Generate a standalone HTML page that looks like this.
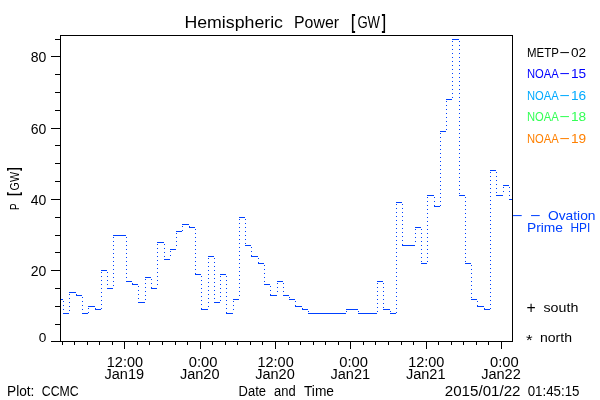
<!DOCTYPE html><html><head><meta charset="utf-8"><title>Hemispheric Power [GW]</title>
<style>html,body{margin:0;padding:0;background:#fff}svg{display:block}text{font-family:"Liberation Sans",sans-serif}</style></head><body>
<svg width="600" height="400" viewBox="0 0 600 400">
<rect width="600" height="400" fill="#fff"/>
<g fill="#000" shape-rendering="crispEdges">
<rect x="60" y="35" width="453" height="1"/>
<rect x="60" y="341" width="453" height="1"/>
<rect x="60" y="35" width="1" height="307"/>
<rect x="512" y="35" width="1" height="307"/>
<rect x="51" y="341" width="9" height="1"/>
<rect x="55" y="324" width="5" height="1"/>
<rect x="55" y="306" width="5" height="1"/>
<rect x="55" y="288" width="5" height="1"/>
<rect x="51" y="270" width="9" height="1"/>
<rect x="55" y="252" width="5" height="1"/>
<rect x="55" y="235" width="5" height="1"/>
<rect x="55" y="217" width="5" height="1"/>
<rect x="51" y="199" width="9" height="1"/>
<rect x="55" y="181" width="5" height="1"/>
<rect x="55" y="163" width="5" height="1"/>
<rect x="55" y="145" width="5" height="1"/>
<rect x="51" y="128" width="9" height="1"/>
<rect x="55" y="110" width="5" height="1"/>
<rect x="55" y="92" width="5" height="1"/>
<rect x="55" y="74" width="5" height="1"/>
<rect x="51" y="56" width="9" height="1"/>
<rect x="55" y="39" width="5" height="1"/>
<rect x="62" y="342" width="1" height="3"/>
<rect x="74" y="342" width="1" height="3"/>
<rect x="87" y="342" width="1" height="3"/>
<rect x="99" y="342" width="1" height="3"/>
<rect x="112" y="342" width="1" height="3"/>
<rect x="124" y="342" width="1" height="7"/>
<rect x="137" y="342" width="1" height="3"/>
<rect x="149" y="342" width="1" height="3"/>
<rect x="162" y="342" width="1" height="3"/>
<rect x="175" y="342" width="1" height="3"/>
<rect x="187" y="342" width="1" height="3"/>
<rect x="200" y="342" width="1" height="7"/>
<rect x="212" y="342" width="1" height="3"/>
<rect x="225" y="342" width="1" height="3"/>
<rect x="237" y="342" width="1" height="3"/>
<rect x="250" y="342" width="1" height="3"/>
<rect x="262" y="342" width="1" height="3"/>
<rect x="275" y="342" width="1" height="7"/>
<rect x="288" y="342" width="1" height="3"/>
<rect x="300" y="342" width="1" height="3"/>
<rect x="313" y="342" width="1" height="3"/>
<rect x="325" y="342" width="1" height="3"/>
<rect x="338" y="342" width="1" height="3"/>
<rect x="350" y="342" width="1" height="7"/>
<rect x="363" y="342" width="1" height="3"/>
<rect x="375" y="342" width="1" height="3"/>
<rect x="388" y="342" width="1" height="3"/>
<rect x="401" y="342" width="1" height="3"/>
<rect x="413" y="342" width="1" height="3"/>
<rect x="426" y="342" width="1" height="7"/>
<rect x="438" y="342" width="1" height="3"/>
<rect x="451" y="342" width="1" height="3"/>
<rect x="463" y="342" width="1" height="3"/>
<rect x="476" y="342" width="1" height="3"/>
<rect x="488" y="342" width="1" height="3"/>
<rect x="501" y="342" width="1" height="7"/>
</g>
<g fill="#0040ff" shape-rendering="crispEdges">
<rect x="61" y="299" width="2" height="1"/>
<rect x="63" y="313" width="6" height="1"/>
<rect x="69" y="292" width="7" height="1"/>
<rect x="76" y="295" width="6" height="1"/>
<rect x="82" y="313" width="6" height="1"/>
<rect x="88" y="306" width="7" height="1"/>
<rect x="95" y="309" width="6" height="1"/>
<rect x="101" y="270" width="6" height="1"/>
<rect x="107" y="288" width="6" height="1"/>
<rect x="113" y="235" width="7" height="1"/>
<rect x="120" y="235" width="6" height="1"/>
<rect x="126" y="281" width="6" height="1"/>
<rect x="132" y="284" width="6" height="1"/>
<rect x="138" y="302" width="7" height="1"/>
<rect x="145" y="277" width="6" height="1"/>
<rect x="151" y="288" width="6" height="1"/>
<rect x="157" y="242" width="7" height="1"/>
<rect x="164" y="259" width="6" height="1"/>
<rect x="170" y="249" width="6" height="1"/>
<rect x="176" y="231" width="6" height="1"/>
<rect x="182" y="224" width="7" height="1"/>
<rect x="189" y="227" width="6" height="1"/>
<rect x="195" y="274" width="6" height="1"/>
<rect x="201" y="309" width="7" height="1"/>
<rect x="208" y="256" width="6" height="1"/>
<rect x="214" y="302" width="6" height="1"/>
<rect x="220" y="274" width="6" height="1"/>
<rect x="226" y="313" width="7" height="1"/>
<rect x="233" y="299" width="6" height="1"/>
<rect x="239" y="217" width="6" height="1"/>
<rect x="245" y="245" width="6" height="1"/>
<rect x="251" y="256" width="7" height="1"/>
<rect x="258" y="263" width="6" height="1"/>
<rect x="264" y="284" width="6" height="1"/>
<rect x="270" y="295" width="7" height="1"/>
<rect x="277" y="281" width="6" height="1"/>
<rect x="283" y="295" width="6" height="1"/>
<rect x="289" y="299" width="6" height="1"/>
<rect x="295" y="306" width="7" height="1"/>
<rect x="302" y="309" width="6" height="1"/>
<rect x="308" y="313" width="6" height="1"/>
<rect x="314" y="313" width="7" height="1"/>
<rect x="321" y="313" width="6" height="1"/>
<rect x="327" y="313" width="6" height="1"/>
<rect x="333" y="313" width="6" height="1"/>
<rect x="339" y="313" width="7" height="1"/>
<rect x="346" y="309" width="6" height="1"/>
<rect x="352" y="309" width="6" height="1"/>
<rect x="358" y="313" width="6" height="1"/>
<rect x="364" y="313" width="7" height="1"/>
<rect x="371" y="313" width="6" height="1"/>
<rect x="377" y="281" width="6" height="1"/>
<rect x="383" y="309" width="7" height="1"/>
<rect x="390" y="313" width="6" height="1"/>
<rect x="396" y="202" width="6" height="1"/>
<rect x="402" y="245" width="6" height="1"/>
<rect x="408" y="245" width="7" height="1"/>
<rect x="415" y="227" width="6" height="1"/>
<rect x="421" y="263" width="6" height="1"/>
<rect x="427" y="195" width="7" height="1"/>
<rect x="434" y="206" width="6" height="1"/>
<rect x="440" y="131" width="6" height="1"/>
<rect x="446" y="99" width="6" height="1"/>
<rect x="452" y="39" width="7" height="1"/>
<rect x="459" y="195" width="6" height="1"/>
<rect x="465" y="263" width="6" height="1"/>
<rect x="471" y="299" width="6" height="1"/>
<rect x="477" y="306" width="7" height="1"/>
<rect x="484" y="309" width="6" height="1"/>
<rect x="490" y="170" width="6" height="1"/>
<rect x="496" y="195" width="7" height="1"/>
<rect x="503" y="185" width="6" height="1"/>
<rect x="509" y="199" width="3" height="1"/>
<rect x="63" y="301" width="1" height="1"/>
<rect x="63" y="305" width="1" height="1"/>
<rect x="63" y="309" width="1" height="1"/>
<rect x="69" y="294" width="1" height="1"/>
<rect x="69" y="298" width="1" height="1"/>
<rect x="69" y="302" width="1" height="1"/>
<rect x="69" y="306" width="1" height="1"/>
<rect x="69" y="310" width="1" height="1"/>
<rect x="76" y="294" width="1" height="1"/>
<rect x="82" y="297" width="1" height="1"/>
<rect x="82" y="301" width="1" height="1"/>
<rect x="82" y="305" width="1" height="1"/>
<rect x="82" y="309" width="1" height="1"/>
<rect x="88" y="308" width="1" height="1"/>
<rect x="88" y="312" width="1" height="1"/>
<rect x="95" y="308" width="1" height="1"/>
<rect x="101" y="272" width="1" height="1"/>
<rect x="101" y="276" width="1" height="1"/>
<rect x="101" y="280" width="1" height="1"/>
<rect x="101" y="284" width="1" height="1"/>
<rect x="101" y="288" width="1" height="1"/>
<rect x="101" y="292" width="1" height="1"/>
<rect x="101" y="296" width="1" height="1"/>
<rect x="101" y="300" width="1" height="1"/>
<rect x="101" y="304" width="1" height="1"/>
<rect x="101" y="308" width="1" height="1"/>
<rect x="107" y="272" width="1" height="1"/>
<rect x="107" y="276" width="1" height="1"/>
<rect x="107" y="280" width="1" height="1"/>
<rect x="107" y="284" width="1" height="1"/>
<rect x="113" y="237" width="1" height="1"/>
<rect x="113" y="241" width="1" height="1"/>
<rect x="113" y="245" width="1" height="1"/>
<rect x="113" y="249" width="1" height="1"/>
<rect x="113" y="253" width="1" height="1"/>
<rect x="113" y="257" width="1" height="1"/>
<rect x="113" y="261" width="1" height="1"/>
<rect x="113" y="265" width="1" height="1"/>
<rect x="113" y="269" width="1" height="1"/>
<rect x="113" y="273" width="1" height="1"/>
<rect x="113" y="277" width="1" height="1"/>
<rect x="113" y="281" width="1" height="1"/>
<rect x="113" y="285" width="1" height="1"/>
<rect x="126" y="237" width="1" height="1"/>
<rect x="126" y="241" width="1" height="1"/>
<rect x="126" y="245" width="1" height="1"/>
<rect x="126" y="249" width="1" height="1"/>
<rect x="126" y="253" width="1" height="1"/>
<rect x="126" y="257" width="1" height="1"/>
<rect x="126" y="261" width="1" height="1"/>
<rect x="126" y="265" width="1" height="1"/>
<rect x="126" y="269" width="1" height="1"/>
<rect x="126" y="273" width="1" height="1"/>
<rect x="126" y="277" width="1" height="1"/>
<rect x="132" y="283" width="1" height="1"/>
<rect x="138" y="286" width="1" height="1"/>
<rect x="138" y="290" width="1" height="1"/>
<rect x="138" y="294" width="1" height="1"/>
<rect x="138" y="298" width="1" height="1"/>
<rect x="145" y="279" width="1" height="1"/>
<rect x="145" y="283" width="1" height="1"/>
<rect x="145" y="287" width="1" height="1"/>
<rect x="145" y="291" width="1" height="1"/>
<rect x="145" y="295" width="1" height="1"/>
<rect x="145" y="299" width="1" height="1"/>
<rect x="151" y="279" width="1" height="1"/>
<rect x="151" y="283" width="1" height="1"/>
<rect x="151" y="287" width="1" height="1"/>
<rect x="157" y="244" width="1" height="1"/>
<rect x="157" y="248" width="1" height="1"/>
<rect x="157" y="252" width="1" height="1"/>
<rect x="157" y="256" width="1" height="1"/>
<rect x="157" y="260" width="1" height="1"/>
<rect x="157" y="264" width="1" height="1"/>
<rect x="157" y="268" width="1" height="1"/>
<rect x="157" y="272" width="1" height="1"/>
<rect x="157" y="276" width="1" height="1"/>
<rect x="157" y="280" width="1" height="1"/>
<rect x="157" y="284" width="1" height="1"/>
<rect x="164" y="244" width="1" height="1"/>
<rect x="164" y="248" width="1" height="1"/>
<rect x="164" y="252" width="1" height="1"/>
<rect x="164" y="256" width="1" height="1"/>
<rect x="170" y="251" width="1" height="1"/>
<rect x="170" y="255" width="1" height="1"/>
<rect x="176" y="233" width="1" height="1"/>
<rect x="176" y="237" width="1" height="1"/>
<rect x="176" y="241" width="1" height="1"/>
<rect x="176" y="245" width="1" height="1"/>
<rect x="182" y="226" width="1" height="1"/>
<rect x="182" y="230" width="1" height="1"/>
<rect x="189" y="226" width="1" height="1"/>
<rect x="195" y="229" width="1" height="1"/>
<rect x="195" y="233" width="1" height="1"/>
<rect x="195" y="237" width="1" height="1"/>
<rect x="195" y="241" width="1" height="1"/>
<rect x="195" y="245" width="1" height="1"/>
<rect x="195" y="249" width="1" height="1"/>
<rect x="195" y="253" width="1" height="1"/>
<rect x="195" y="257" width="1" height="1"/>
<rect x="195" y="261" width="1" height="1"/>
<rect x="195" y="265" width="1" height="1"/>
<rect x="195" y="269" width="1" height="1"/>
<rect x="195" y="273" width="1" height="1"/>
<rect x="201" y="276" width="1" height="1"/>
<rect x="201" y="280" width="1" height="1"/>
<rect x="201" y="284" width="1" height="1"/>
<rect x="201" y="288" width="1" height="1"/>
<rect x="201" y="292" width="1" height="1"/>
<rect x="201" y="296" width="1" height="1"/>
<rect x="201" y="300" width="1" height="1"/>
<rect x="201" y="304" width="1" height="1"/>
<rect x="201" y="308" width="1" height="1"/>
<rect x="208" y="258" width="1" height="1"/>
<rect x="208" y="262" width="1" height="1"/>
<rect x="208" y="266" width="1" height="1"/>
<rect x="208" y="270" width="1" height="1"/>
<rect x="208" y="274" width="1" height="1"/>
<rect x="208" y="278" width="1" height="1"/>
<rect x="208" y="282" width="1" height="1"/>
<rect x="208" y="286" width="1" height="1"/>
<rect x="208" y="290" width="1" height="1"/>
<rect x="208" y="294" width="1" height="1"/>
<rect x="208" y="298" width="1" height="1"/>
<rect x="208" y="302" width="1" height="1"/>
<rect x="208" y="306" width="1" height="1"/>
<rect x="214" y="258" width="1" height="1"/>
<rect x="214" y="262" width="1" height="1"/>
<rect x="214" y="266" width="1" height="1"/>
<rect x="214" y="270" width="1" height="1"/>
<rect x="214" y="274" width="1" height="1"/>
<rect x="214" y="278" width="1" height="1"/>
<rect x="214" y="282" width="1" height="1"/>
<rect x="214" y="286" width="1" height="1"/>
<rect x="214" y="290" width="1" height="1"/>
<rect x="214" y="294" width="1" height="1"/>
<rect x="214" y="298" width="1" height="1"/>
<rect x="220" y="276" width="1" height="1"/>
<rect x="220" y="280" width="1" height="1"/>
<rect x="220" y="284" width="1" height="1"/>
<rect x="220" y="288" width="1" height="1"/>
<rect x="220" y="292" width="1" height="1"/>
<rect x="220" y="296" width="1" height="1"/>
<rect x="220" y="300" width="1" height="1"/>
<rect x="226" y="276" width="1" height="1"/>
<rect x="226" y="280" width="1" height="1"/>
<rect x="226" y="284" width="1" height="1"/>
<rect x="226" y="288" width="1" height="1"/>
<rect x="226" y="292" width="1" height="1"/>
<rect x="226" y="296" width="1" height="1"/>
<rect x="226" y="300" width="1" height="1"/>
<rect x="226" y="304" width="1" height="1"/>
<rect x="226" y="308" width="1" height="1"/>
<rect x="226" y="312" width="1" height="1"/>
<rect x="233" y="301" width="1" height="1"/>
<rect x="233" y="305" width="1" height="1"/>
<rect x="233" y="309" width="1" height="1"/>
<rect x="239" y="219" width="1" height="1"/>
<rect x="239" y="223" width="1" height="1"/>
<rect x="239" y="227" width="1" height="1"/>
<rect x="239" y="231" width="1" height="1"/>
<rect x="239" y="235" width="1" height="1"/>
<rect x="239" y="239" width="1" height="1"/>
<rect x="239" y="243" width="1" height="1"/>
<rect x="239" y="247" width="1" height="1"/>
<rect x="239" y="251" width="1" height="1"/>
<rect x="239" y="255" width="1" height="1"/>
<rect x="239" y="259" width="1" height="1"/>
<rect x="239" y="263" width="1" height="1"/>
<rect x="239" y="267" width="1" height="1"/>
<rect x="239" y="271" width="1" height="1"/>
<rect x="239" y="275" width="1" height="1"/>
<rect x="239" y="279" width="1" height="1"/>
<rect x="239" y="283" width="1" height="1"/>
<rect x="239" y="287" width="1" height="1"/>
<rect x="239" y="291" width="1" height="1"/>
<rect x="239" y="295" width="1" height="1"/>
<rect x="245" y="219" width="1" height="1"/>
<rect x="245" y="223" width="1" height="1"/>
<rect x="245" y="227" width="1" height="1"/>
<rect x="245" y="231" width="1" height="1"/>
<rect x="245" y="235" width="1" height="1"/>
<rect x="245" y="239" width="1" height="1"/>
<rect x="245" y="243" width="1" height="1"/>
<rect x="251" y="247" width="1" height="1"/>
<rect x="251" y="251" width="1" height="1"/>
<rect x="251" y="255" width="1" height="1"/>
<rect x="258" y="258" width="1" height="1"/>
<rect x="258" y="262" width="1" height="1"/>
<rect x="264" y="265" width="1" height="1"/>
<rect x="264" y="269" width="1" height="1"/>
<rect x="264" y="273" width="1" height="1"/>
<rect x="264" y="277" width="1" height="1"/>
<rect x="264" y="281" width="1" height="1"/>
<rect x="270" y="286" width="1" height="1"/>
<rect x="270" y="290" width="1" height="1"/>
<rect x="270" y="294" width="1" height="1"/>
<rect x="277" y="283" width="1" height="1"/>
<rect x="277" y="287" width="1" height="1"/>
<rect x="277" y="291" width="1" height="1"/>
<rect x="283" y="283" width="1" height="1"/>
<rect x="283" y="287" width="1" height="1"/>
<rect x="283" y="291" width="1" height="1"/>
<rect x="289" y="297" width="1" height="1"/>
<rect x="295" y="301" width="1" height="1"/>
<rect x="295" y="305" width="1" height="1"/>
<rect x="302" y="308" width="1" height="1"/>
<rect x="308" y="311" width="1" height="1"/>
<rect x="346" y="311" width="1" height="1"/>
<rect x="358" y="311" width="1" height="1"/>
<rect x="377" y="283" width="1" height="1"/>
<rect x="377" y="287" width="1" height="1"/>
<rect x="377" y="291" width="1" height="1"/>
<rect x="377" y="295" width="1" height="1"/>
<rect x="377" y="299" width="1" height="1"/>
<rect x="377" y="303" width="1" height="1"/>
<rect x="377" y="307" width="1" height="1"/>
<rect x="377" y="311" width="1" height="1"/>
<rect x="383" y="283" width="1" height="1"/>
<rect x="383" y="287" width="1" height="1"/>
<rect x="383" y="291" width="1" height="1"/>
<rect x="383" y="295" width="1" height="1"/>
<rect x="383" y="299" width="1" height="1"/>
<rect x="383" y="303" width="1" height="1"/>
<rect x="383" y="307" width="1" height="1"/>
<rect x="390" y="311" width="1" height="1"/>
<rect x="396" y="204" width="1" height="1"/>
<rect x="396" y="208" width="1" height="1"/>
<rect x="396" y="212" width="1" height="1"/>
<rect x="396" y="216" width="1" height="1"/>
<rect x="396" y="220" width="1" height="1"/>
<rect x="396" y="224" width="1" height="1"/>
<rect x="396" y="228" width="1" height="1"/>
<rect x="396" y="232" width="1" height="1"/>
<rect x="396" y="236" width="1" height="1"/>
<rect x="396" y="240" width="1" height="1"/>
<rect x="396" y="244" width="1" height="1"/>
<rect x="396" y="248" width="1" height="1"/>
<rect x="396" y="252" width="1" height="1"/>
<rect x="396" y="256" width="1" height="1"/>
<rect x="396" y="260" width="1" height="1"/>
<rect x="396" y="264" width="1" height="1"/>
<rect x="396" y="268" width="1" height="1"/>
<rect x="396" y="272" width="1" height="1"/>
<rect x="396" y="276" width="1" height="1"/>
<rect x="396" y="280" width="1" height="1"/>
<rect x="396" y="284" width="1" height="1"/>
<rect x="396" y="288" width="1" height="1"/>
<rect x="396" y="292" width="1" height="1"/>
<rect x="396" y="296" width="1" height="1"/>
<rect x="396" y="300" width="1" height="1"/>
<rect x="396" y="304" width="1" height="1"/>
<rect x="396" y="308" width="1" height="1"/>
<rect x="396" y="312" width="1" height="1"/>
<rect x="402" y="204" width="1" height="1"/>
<rect x="402" y="208" width="1" height="1"/>
<rect x="402" y="212" width="1" height="1"/>
<rect x="402" y="216" width="1" height="1"/>
<rect x="402" y="220" width="1" height="1"/>
<rect x="402" y="224" width="1" height="1"/>
<rect x="402" y="228" width="1" height="1"/>
<rect x="402" y="232" width="1" height="1"/>
<rect x="402" y="236" width="1" height="1"/>
<rect x="402" y="240" width="1" height="1"/>
<rect x="402" y="244" width="1" height="1"/>
<rect x="415" y="229" width="1" height="1"/>
<rect x="415" y="233" width="1" height="1"/>
<rect x="415" y="237" width="1" height="1"/>
<rect x="415" y="241" width="1" height="1"/>
<rect x="421" y="229" width="1" height="1"/>
<rect x="421" y="233" width="1" height="1"/>
<rect x="421" y="237" width="1" height="1"/>
<rect x="421" y="241" width="1" height="1"/>
<rect x="421" y="245" width="1" height="1"/>
<rect x="421" y="249" width="1" height="1"/>
<rect x="421" y="253" width="1" height="1"/>
<rect x="421" y="257" width="1" height="1"/>
<rect x="421" y="261" width="1" height="1"/>
<rect x="427" y="197" width="1" height="1"/>
<rect x="427" y="201" width="1" height="1"/>
<rect x="427" y="205" width="1" height="1"/>
<rect x="427" y="209" width="1" height="1"/>
<rect x="427" y="213" width="1" height="1"/>
<rect x="427" y="217" width="1" height="1"/>
<rect x="427" y="221" width="1" height="1"/>
<rect x="427" y="225" width="1" height="1"/>
<rect x="427" y="229" width="1" height="1"/>
<rect x="427" y="233" width="1" height="1"/>
<rect x="427" y="237" width="1" height="1"/>
<rect x="427" y="241" width="1" height="1"/>
<rect x="427" y="245" width="1" height="1"/>
<rect x="427" y="249" width="1" height="1"/>
<rect x="427" y="253" width="1" height="1"/>
<rect x="427" y="257" width="1" height="1"/>
<rect x="427" y="261" width="1" height="1"/>
<rect x="434" y="197" width="1" height="1"/>
<rect x="434" y="201" width="1" height="1"/>
<rect x="434" y="205" width="1" height="1"/>
<rect x="440" y="133" width="1" height="1"/>
<rect x="440" y="137" width="1" height="1"/>
<rect x="440" y="141" width="1" height="1"/>
<rect x="440" y="145" width="1" height="1"/>
<rect x="440" y="149" width="1" height="1"/>
<rect x="440" y="153" width="1" height="1"/>
<rect x="440" y="157" width="1" height="1"/>
<rect x="440" y="161" width="1" height="1"/>
<rect x="440" y="165" width="1" height="1"/>
<rect x="440" y="169" width="1" height="1"/>
<rect x="440" y="173" width="1" height="1"/>
<rect x="440" y="177" width="1" height="1"/>
<rect x="440" y="181" width="1" height="1"/>
<rect x="440" y="185" width="1" height="1"/>
<rect x="440" y="189" width="1" height="1"/>
<rect x="440" y="193" width="1" height="1"/>
<rect x="440" y="197" width="1" height="1"/>
<rect x="440" y="201" width="1" height="1"/>
<rect x="440" y="205" width="1" height="1"/>
<rect x="446" y="101" width="1" height="1"/>
<rect x="446" y="105" width="1" height="1"/>
<rect x="446" y="109" width="1" height="1"/>
<rect x="446" y="113" width="1" height="1"/>
<rect x="446" y="117" width="1" height="1"/>
<rect x="446" y="121" width="1" height="1"/>
<rect x="446" y="125" width="1" height="1"/>
<rect x="446" y="129" width="1" height="1"/>
<rect x="452" y="41" width="1" height="1"/>
<rect x="452" y="45" width="1" height="1"/>
<rect x="452" y="49" width="1" height="1"/>
<rect x="452" y="53" width="1" height="1"/>
<rect x="452" y="57" width="1" height="1"/>
<rect x="452" y="61" width="1" height="1"/>
<rect x="452" y="65" width="1" height="1"/>
<rect x="452" y="69" width="1" height="1"/>
<rect x="452" y="73" width="1" height="1"/>
<rect x="452" y="77" width="1" height="1"/>
<rect x="452" y="81" width="1" height="1"/>
<rect x="452" y="85" width="1" height="1"/>
<rect x="452" y="89" width="1" height="1"/>
<rect x="452" y="93" width="1" height="1"/>
<rect x="452" y="97" width="1" height="1"/>
<rect x="459" y="41" width="1" height="1"/>
<rect x="459" y="45" width="1" height="1"/>
<rect x="459" y="49" width="1" height="1"/>
<rect x="459" y="53" width="1" height="1"/>
<rect x="459" y="57" width="1" height="1"/>
<rect x="459" y="61" width="1" height="1"/>
<rect x="459" y="65" width="1" height="1"/>
<rect x="459" y="69" width="1" height="1"/>
<rect x="459" y="73" width="1" height="1"/>
<rect x="459" y="77" width="1" height="1"/>
<rect x="459" y="81" width="1" height="1"/>
<rect x="459" y="85" width="1" height="1"/>
<rect x="459" y="89" width="1" height="1"/>
<rect x="459" y="93" width="1" height="1"/>
<rect x="459" y="97" width="1" height="1"/>
<rect x="459" y="101" width="1" height="1"/>
<rect x="459" y="105" width="1" height="1"/>
<rect x="459" y="109" width="1" height="1"/>
<rect x="459" y="113" width="1" height="1"/>
<rect x="459" y="117" width="1" height="1"/>
<rect x="459" y="121" width="1" height="1"/>
<rect x="459" y="125" width="1" height="1"/>
<rect x="459" y="129" width="1" height="1"/>
<rect x="459" y="133" width="1" height="1"/>
<rect x="459" y="137" width="1" height="1"/>
<rect x="459" y="141" width="1" height="1"/>
<rect x="459" y="145" width="1" height="1"/>
<rect x="459" y="149" width="1" height="1"/>
<rect x="459" y="153" width="1" height="1"/>
<rect x="459" y="157" width="1" height="1"/>
<rect x="459" y="161" width="1" height="1"/>
<rect x="459" y="165" width="1" height="1"/>
<rect x="459" y="169" width="1" height="1"/>
<rect x="459" y="173" width="1" height="1"/>
<rect x="459" y="177" width="1" height="1"/>
<rect x="459" y="181" width="1" height="1"/>
<rect x="459" y="185" width="1" height="1"/>
<rect x="459" y="189" width="1" height="1"/>
<rect x="459" y="193" width="1" height="1"/>
<rect x="465" y="197" width="1" height="1"/>
<rect x="465" y="201" width="1" height="1"/>
<rect x="465" y="205" width="1" height="1"/>
<rect x="465" y="209" width="1" height="1"/>
<rect x="465" y="213" width="1" height="1"/>
<rect x="465" y="217" width="1" height="1"/>
<rect x="465" y="221" width="1" height="1"/>
<rect x="465" y="225" width="1" height="1"/>
<rect x="465" y="229" width="1" height="1"/>
<rect x="465" y="233" width="1" height="1"/>
<rect x="465" y="237" width="1" height="1"/>
<rect x="465" y="241" width="1" height="1"/>
<rect x="465" y="245" width="1" height="1"/>
<rect x="465" y="249" width="1" height="1"/>
<rect x="465" y="253" width="1" height="1"/>
<rect x="465" y="257" width="1" height="1"/>
<rect x="465" y="261" width="1" height="1"/>
<rect x="471" y="265" width="1" height="1"/>
<rect x="471" y="269" width="1" height="1"/>
<rect x="471" y="273" width="1" height="1"/>
<rect x="471" y="277" width="1" height="1"/>
<rect x="471" y="281" width="1" height="1"/>
<rect x="471" y="285" width="1" height="1"/>
<rect x="471" y="289" width="1" height="1"/>
<rect x="471" y="293" width="1" height="1"/>
<rect x="471" y="297" width="1" height="1"/>
<rect x="477" y="301" width="1" height="1"/>
<rect x="477" y="305" width="1" height="1"/>
<rect x="484" y="308" width="1" height="1"/>
<rect x="490" y="172" width="1" height="1"/>
<rect x="490" y="176" width="1" height="1"/>
<rect x="490" y="180" width="1" height="1"/>
<rect x="490" y="184" width="1" height="1"/>
<rect x="490" y="188" width="1" height="1"/>
<rect x="490" y="192" width="1" height="1"/>
<rect x="490" y="196" width="1" height="1"/>
<rect x="490" y="200" width="1" height="1"/>
<rect x="490" y="204" width="1" height="1"/>
<rect x="490" y="208" width="1" height="1"/>
<rect x="490" y="212" width="1" height="1"/>
<rect x="490" y="216" width="1" height="1"/>
<rect x="490" y="220" width="1" height="1"/>
<rect x="490" y="224" width="1" height="1"/>
<rect x="490" y="228" width="1" height="1"/>
<rect x="490" y="232" width="1" height="1"/>
<rect x="490" y="236" width="1" height="1"/>
<rect x="490" y="240" width="1" height="1"/>
<rect x="490" y="244" width="1" height="1"/>
<rect x="490" y="248" width="1" height="1"/>
<rect x="490" y="252" width="1" height="1"/>
<rect x="490" y="256" width="1" height="1"/>
<rect x="490" y="260" width="1" height="1"/>
<rect x="490" y="264" width="1" height="1"/>
<rect x="490" y="268" width="1" height="1"/>
<rect x="490" y="272" width="1" height="1"/>
<rect x="490" y="276" width="1" height="1"/>
<rect x="490" y="280" width="1" height="1"/>
<rect x="490" y="284" width="1" height="1"/>
<rect x="490" y="288" width="1" height="1"/>
<rect x="490" y="292" width="1" height="1"/>
<rect x="490" y="296" width="1" height="1"/>
<rect x="490" y="300" width="1" height="1"/>
<rect x="490" y="304" width="1" height="1"/>
<rect x="490" y="308" width="1" height="1"/>
<rect x="496" y="172" width="1" height="1"/>
<rect x="496" y="176" width="1" height="1"/>
<rect x="496" y="180" width="1" height="1"/>
<rect x="496" y="184" width="1" height="1"/>
<rect x="496" y="188" width="1" height="1"/>
<rect x="496" y="192" width="1" height="1"/>
<rect x="503" y="187" width="1" height="1"/>
<rect x="503" y="191" width="1" height="1"/>
<rect x="509" y="187" width="1" height="1"/>
<rect x="509" y="191" width="1" height="1"/>
<rect x="509" y="195" width="1" height="1"/>
</g>
<text font-size="16" fill="#000"><tspan x="184.4" y="28.4" textLength="98.6" lengthAdjust="spacingAndGlyphs">Hemispheric</tspan> <tspan x="294" y="28.4" textLength="45" lengthAdjust="spacingAndGlyphs">Power</tspan> <tspan x="351.2" y="28.9" font-size="19.5" font-weight="bold" textLength="4" lengthAdjust="spacingAndGlyphs">[</tspan><tspan x="357.4" y="28.4" textLength="22.6" lengthAdjust="spacingAndGlyphs">GW</tspan><tspan x="381.8" y="28.9" font-size="19.5" font-weight="bold" textLength="4" lengthAdjust="spacingAndGlyphs">]</tspan></text>
<text x="30.7" y="275.8" font-size="14.4" fill="#000" textLength="15.6" lengthAdjust="spacingAndGlyphs">20</text>
<text x="30.7" y="204.8" font-size="14.4" fill="#000" textLength="15.6" lengthAdjust="spacingAndGlyphs">40</text>
<text x="30.7" y="133.8" font-size="14.4" fill="#000" textLength="15.6" lengthAdjust="spacingAndGlyphs">60</text>
<text x="30.7" y="61.8" font-size="14.4" fill="#000" textLength="15.6" lengthAdjust="spacingAndGlyphs">80</text>
<text x="38.7" y="342.1" font-size="13.4" fill="#000" textLength="7.6" lengthAdjust="spacingAndGlyphs">0</text>
<g transform="translate(18.6,210.6) rotate(-90)">
<text font-size="13.7" fill="#000"><tspan x="0.6" y="0" textLength="6.4" lengthAdjust="spacingAndGlyphs">P</tspan> <tspan x="14.8" y="0.6" font-size="16.5" font-weight="bold" textLength="3.6" lengthAdjust="spacingAndGlyphs">[</tspan><tspan x="20.2" y="0" textLength="18.4" lengthAdjust="spacingAndGlyphs">GW</tspan><tspan x="39.6" y="0.6" font-size="16.5" font-weight="bold" textLength="3.6" lengthAdjust="spacingAndGlyphs">]</tspan></text>
</g>
<text x="106.8" y="366.8" font-size="14.3" fill="#000" textLength="36.2" lengthAdjust="spacingAndGlyphs">12:00</text>
<text x="104.5" y="378.5" font-size="14.0" fill="#000" textLength="39.6" lengthAdjust="spacingAndGlyphs">Jan19</text>
<text x="188.7" y="366.8" font-size="14.3" fill="#000" textLength="28.7" lengthAdjust="spacingAndGlyphs">0:00</text>
<text x="179.9" y="378.5" font-size="14.0" fill="#000" textLength="39.6" lengthAdjust="spacingAndGlyphs">Jan20</text>
<text x="257.5" y="366.8" font-size="14.3" fill="#000" textLength="36.2" lengthAdjust="spacingAndGlyphs">12:00</text>
<text x="255.2" y="378.5" font-size="14.0" fill="#000" textLength="39.6" lengthAdjust="spacingAndGlyphs">Jan20</text>
<text x="339.3" y="366.8" font-size="14.3" fill="#000" textLength="28.7" lengthAdjust="spacingAndGlyphs">0:00</text>
<text x="330.5" y="378.5" font-size="14.0" fill="#000" textLength="39.6" lengthAdjust="spacingAndGlyphs">Jan21</text>
<text x="408.2" y="366.8" font-size="14.3" fill="#000" textLength="36.2" lengthAdjust="spacingAndGlyphs">12:00</text>
<text x="405.9" y="378.5" font-size="14.0" fill="#000" textLength="39.6" lengthAdjust="spacingAndGlyphs">Jan21</text>
<text x="490.0" y="366.8" font-size="14.3" fill="#000" textLength="28.7" lengthAdjust="spacingAndGlyphs">0:00</text>
<text x="481.2" y="378.5" font-size="14.0" fill="#000" textLength="39.6" lengthAdjust="spacingAndGlyphs">Jan22</text>
<text font-size="14.0" fill="#000"><tspan x="7.0" y="395.6" textLength="27.4" lengthAdjust="spacingAndGlyphs">Plot:</tspan><tspan x="38.4" y="395.6" textLength="40.2" lengthAdjust="spacingAndGlyphs"> CCMC</tspan></text>
<text font-size="14.0" fill="#000"><tspan x="238.6" y="395.6" textLength="27.4" lengthAdjust="spacingAndGlyphs">Date</tspan><tspan x="270.4" y="395.6" textLength="25.2" lengthAdjust="spacingAndGlyphs"> and</tspan><tspan x="300.4" y="395.6" textLength="33.6" lengthAdjust="spacingAndGlyphs"> Time</tspan></text>
<text font-size="14.4" fill="#000"><tspan x="444.8" y="396.2" textLength="75.7" lengthAdjust="spacingAndGlyphs">2015/01/22</tspan><tspan x="524.0" y="396.2" textLength="55.5" lengthAdjust="spacingAndGlyphs"> 01:45:15</tspan></text>
<text font-size="13.1" fill="#000"><tspan x="527.0" y="56.9" textLength="31.8" lengthAdjust="spacingAndGlyphs">METP</tspan><tspan x="558.9" y="55.9" textLength="11.8" lengthAdjust="spacingAndGlyphs">-</tspan><tspan x="571.0" y="56.9" textLength="15.2" lengthAdjust="spacingAndGlyphs">02</tspan></text>
<text font-size="13.1" fill="#0000ff"><tspan x="527.0" y="78.4" textLength="31.8" lengthAdjust="spacingAndGlyphs">NOAA</tspan><tspan x="558.9" y="77.4" textLength="11.8" lengthAdjust="spacingAndGlyphs">-</tspan><tspan x="571.0" y="78.4" textLength="15.2" lengthAdjust="spacingAndGlyphs">15</tspan></text>
<text font-size="13.1" fill="#00aaff"><tspan x="527.0" y="99.6" textLength="31.8" lengthAdjust="spacingAndGlyphs">NOAA</tspan><tspan x="558.9" y="98.6" textLength="11.8" lengthAdjust="spacingAndGlyphs">-</tspan><tspan x="571.0" y="99.6" textLength="15.2" lengthAdjust="spacingAndGlyphs">16</tspan></text>
<text font-size="13.1" fill="#33ff55"><tspan x="527.0" y="121.4" textLength="31.8" lengthAdjust="spacingAndGlyphs">NOAA</tspan><tspan x="558.9" y="120.4" textLength="11.8" lengthAdjust="spacingAndGlyphs">-</tspan><tspan x="571.0" y="121.4" textLength="15.2" lengthAdjust="spacingAndGlyphs">18</tspan></text>
<text font-size="13.1" fill="#ff8000"><tspan x="527.0" y="142.7" textLength="31.8" lengthAdjust="spacingAndGlyphs">NOAA</tspan><tspan x="558.9" y="141.7" textLength="11.8" lengthAdjust="spacingAndGlyphs">-</tspan><tspan x="571.0" y="142.7" textLength="15.2" lengthAdjust="spacingAndGlyphs">19</tspan></text>
<text font-size="13.1" fill="#0040ff"><tspan x="511.6" y="218.5" textLength="11.8" lengthAdjust="spacingAndGlyphs">-</tspan><tspan x="529.6" y="218.5" textLength="11.8" lengthAdjust="spacingAndGlyphs">-</tspan><tspan x="548.0" y="219.5" textLength="47.5" lengthAdjust="spacingAndGlyphs">Ovation</tspan></text>
<text font-size="13.1" fill="#0040ff"><tspan x="527.0" y="231.5" textLength="36.0" lengthAdjust="spacingAndGlyphs">Prime</tspan><tspan x="567.2" y="231.5" textLength="23.1" lengthAdjust="spacingAndGlyphs"> HPI</tspan></text>
<text font-size="12.6" fill="#000"><tspan x="526.4" y="313.0" font-size="17" textLength="9.2" lengthAdjust="spacingAndGlyphs">+</tspan> <tspan x="543.5" y="311.8" textLength="34.8" lengthAdjust="spacingAndGlyphs">south</tspan></text>
<text font-size="12.6" fill="#000"><tspan x="526" y="344.6" font-size="15" textLength="6.6" lengthAdjust="spacingAndGlyphs">*</tspan> <tspan x="540" y="341.8" textLength="32" lengthAdjust="spacingAndGlyphs">north</tspan></text>
</svg></body></html>
